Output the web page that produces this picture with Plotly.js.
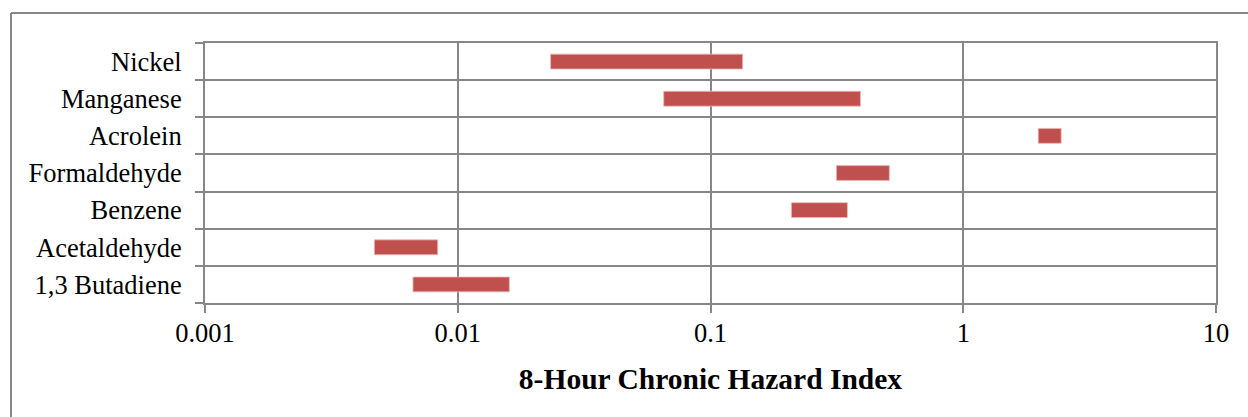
<!DOCTYPE html>
<html>
<head>
<meta charset="utf-8">
<script src="https://cdn.plot.ly/plotly-3.0.1.min.js"></script>
<style>html,body{margin:0;padding:0;background:#fff;}#chart{width:1248px;height:417px;}</style>
</head>
<body>
<div id="chart"></div>
<script>
// Categories listed bottom to top
const categories = ["1,3 Butadiene", "Acetaldehyde", "Benzene", "Formaldehyde", "Acrolein", "Manganese", "Nickel"];
// Range of the 8-hour chronic hazard index for each pollutant
const lowValues  = [0.00665, 0.00468, 0.209, 0.315, 1.98, 0.0653, 0.0233];
const highValues = [0.0160, 0.00833, 0.348, 0.510, 2.44, 0.392, 0.134];
const xTickVals = [0.001, 0.01, 0.1, 1, 10];
const xTickText = ["0.001", "0.01", "0.1", "1", "10"];
const xAxisTitle = "8-Hour Chronic Hazard Index";

const lengths = highValues.map((h, i) => h - lowValues[i]);
const serif = '"Liberation Serif", "Times New Roman", serif';
const gridCol = '#878787';

const trace = {
  type: 'bar',
  orientation: 'h',
  y: categories,
  x: lengths,
  base: lowValues,
  width: 0.4,
  marker: {color: '#C0504D', line: {color: '#E9B8B7', width: 0.8}},
  hoverinfo: 'skip'
};

const layout = {
  width: 1248, height: 417,
  margin: {l: 205, r: 32, t: 43, b: 114},
  paper_bgcolor: '#fff', plot_bgcolor: '#fff',
  showlegend: false,
  font: {family: serif, color: '#000', size: 26.5},
  xaxis: {
    type: 'log', range: [-3, 1],
    tickvals: xTickVals, ticktext: xTickText,
    showgrid: true, gridcolor: gridCol, gridwidth: 2,
    showline: true, linecolor: gridCol, linewidth: 2, mirror: true,
    ticks: 'outside', ticklen: 8, tickwidth: 2, tickcolor: gridCol,
    zeroline: false,
    tickfont: {family: serif, size: 26.5, color: '#000'},
    ticklabelstandoff: -3,
    title: {text: xAxisTitle, font: {family: serif, size: 29.5, color: '#000', weight: 'bold'}, standoff: 22}
  },
  yaxis: {
    type: 'category',
    categoryorder: 'array', categoryarray: categories,
    range: [-0.5, 6.5],
    tickson: 'boundaries',
    showgrid: true, gridcolor: gridCol, gridwidth: 2,
    showline: true, linecolor: gridCol, linewidth: 2, mirror: true,
    ticks: 'outside', ticklen: 8, tickwidth: 2, tickcolor: gridCol,
    tickfont: {family: serif, size: 26.5, color: '#000'},
    ticklabelstandoff: 16
  },
  shapes: [
    {type: 'line', xref: 'paper', yref: 'paper', x0: -0.1919, x1: -0.1919, y0: 1.1154, y1: -0.5,
     line: {color: gridCol, width: 2}},
    {type: 'line', xref: 'paper', yref: 'paper', x0: -0.1919, x1: 1.05, y0: 1.1154, y1: 1.1154,
     line: {color: gridCol, width: 2}}
  ]
};

Plotly.newPlot('chart', [trace], layout, {displayModeBar: false, staticPlot: true});
</script>
</body>
</html>
